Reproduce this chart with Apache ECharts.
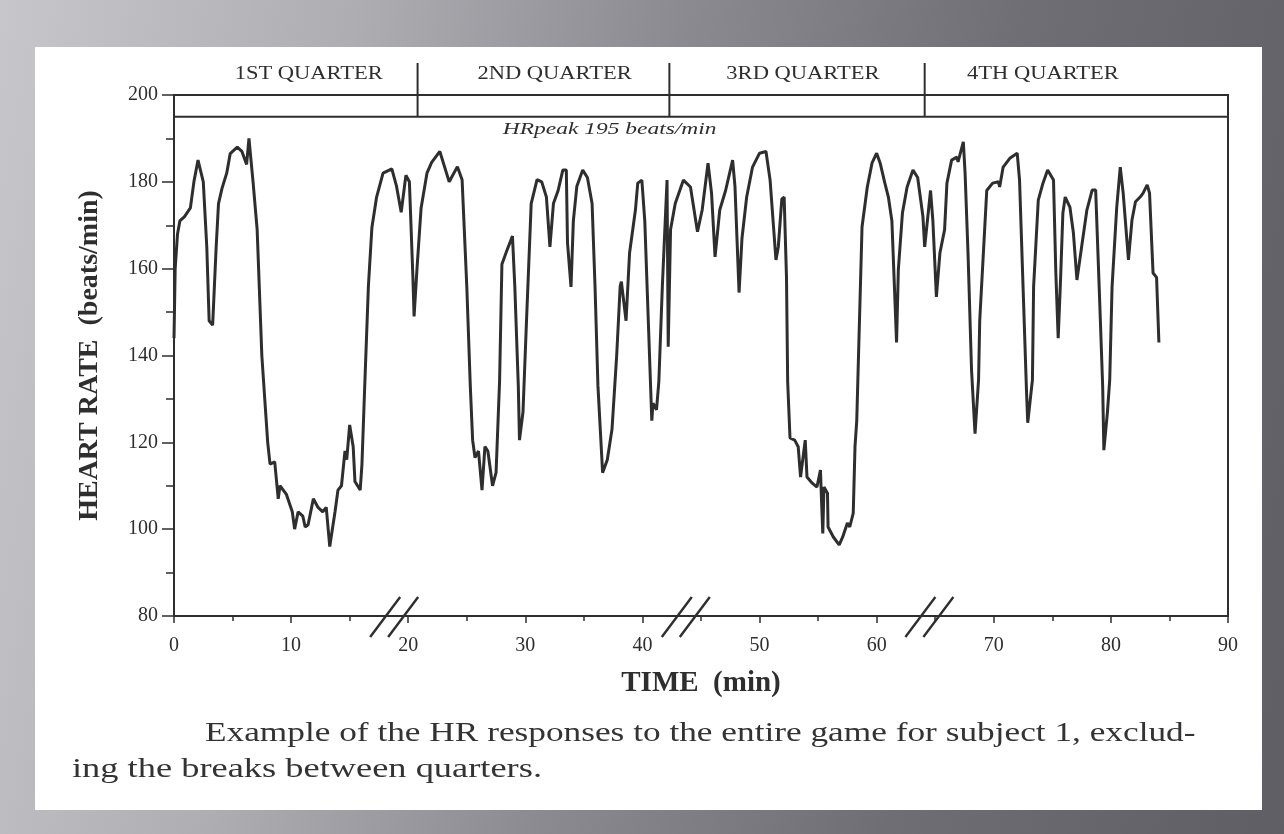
<!DOCTYPE html>
<html>
<head>
<meta charset="utf-8">
<title>HR responses, subject 1</title>
<script src="https://cdn.jsdelivr.net/npm/echarts@6/dist/echarts.min.js"></script>
<style>
    html, body { margin: 0; padding: 0; width: 1284px; height: 834px; overflow: hidden; }
    body {
        background: linear-gradient(100deg, #c6c6cb 0%, #adadb2 25%, #8b8a90 48%, #6f6e74 72%, #5f5e64 100%);
    }
    #paper { position: absolute; left: 35px; top: 47px; width: 1227px; height: 763px; background: #fff; }
    #chart { position: absolute; left: 0; top: 0; width: 1284px; height: 834px; }
</style>
</head>
<body>
<div id="paper"></div>
<div id="chart"></div>
<script>
    // minutes of play (breaks removed) and heart rate
    var minutes = [
        0.0, 0.1, 0.3, 0.5, 0.9, 1.4, 1.7, 2.05, 2.5, 2.8, 3.0, 3.3, 3.6, 3.8, 4.1, 4.5, 4.8, 5.4, 5.8, 6.2,
        6.4, 6.75, 7.1, 7.5, 7.8, 8.0, 8.2, 8.6, 8.9, 9.05, 9.6, 10.1, 10.3, 10.6, 11.0, 11.2, 11.45, 11.9, 12.3, 12.7,
        13.0, 13.3, 13.75, 14.0, 14.3, 14.6, 14.75, 15.0, 15.3, 15.45, 15.9, 16.05, 16.3, 16.6, 16.9, 17.3, 17.85, 18.6, 19.0, 19.4,
        19.8, 20.1, 20.4, 20.5, 20.75, 21.1, 21.6, 22.0, 22.7, 23.5, 24.2, 24.6, 25.0, 25.3, 25.5, 25.7, 26.0, 26.3, 26.55, 26.8,
        27.2, 27.5, 27.8, 28.0, 28.4, 28.9, 29.1, 29.4, 29.5, 29.8, 30.1, 30.5, 31.0, 31.4, 31.8, 32.1, 32.4, 32.8, 33.2, 33.5,
        33.6, 33.9, 34.1, 34.4, 34.9, 35.3, 35.7, 35.95, 36.2, 36.6, 37.0, 37.4, 37.8, 38.1, 38.2, 38.6, 38.9, 39.4, 39.6, 39.95,
        40.2, 40.5, 40.8, 40.9, 41.2, 41.4, 41.7, 42.1, 42.2, 42.4, 42.8, 43.5, 44.1, 44.7, 45.1, 45.6, 45.9, 46.2, 46.6, 47.1,
        47.7, 47.9, 48.25, 48.5, 48.9, 49.4, 50.0, 50.55, 50.9, 51.4, 51.6, 51.9, 52.1, 52.3, 52.4, 52.6, 53.0, 53.3, 53.5, 53.9,
        54.05, 54.5, 54.9, 55.2, 55.3, 55.4, 55.5, 55.8, 55.85, 56.3, 56.8, 57.1, 57.5, 57.7, 58.0, 58.15, 58.3, 58.45, 58.75, 59.2,
        59.6, 60.0, 60.3, 60.7, 61.0, 61.3, 61.7, 61.85, 62.2, 62.6, 63.1, 63.5, 63.95, 64.1, 64.6, 64.8, 65.1, 65.4, 65.8, 66.0,
        66.4, 66.85, 66.95, 67.4, 67.55, 67.8, 68.1, 68.4, 68.7, 68.8, 69.4, 69.9, 70.4, 70.5, 70.8, 71.4, 72.0, 72.2, 72.5, 72.8,
        72.9, 73.3, 73.4, 73.8, 74.2, 74.6, 75.1, 75.3, 75.5, 75.7, 75.9, 76.1, 76.5, 76.8, 77.1, 77.5, 77.95, 78.4, 78.7, 79.0,
        79.3, 79.4, 79.7, 79.9, 80.1, 80.5, 80.8, 81.05, 81.5, 81.8, 82.1, 82.5, 82.75, 83.1, 83.3, 83.6, 83.9, 84.1
    ];
    var heartRate = [
        144, 160, 168, 171, 172, 174, 180, 185, 180, 165, 148, 147, 165, 175, 178.5, 182, 186.5, 188, 187, 184,
        190, 180, 169, 140, 128, 120, 115, 115.5, 107, 110, 108, 104, 100, 104, 103, 100.5, 101, 107, 105, 104,
        105, 96, 104, 109, 110, 118, 116, 124, 119, 111, 109, 115, 134, 156, 169.5, 176.5, 182, 183, 179, 173,
        181.5, 180, 158, 149, 160, 174, 182, 184.5, 187, 180, 183.5, 180.5, 156, 133, 120.5, 116.5, 118, 109, 119, 118,
        110, 113, 134, 161, 164, 167.5, 156, 133, 120.5, 127, 148, 175, 180.5, 180, 176.5, 165, 175, 178, 182.7, 182.7,
        166, 155.8, 171, 179, 182.7, 181, 175, 156, 133, 113, 116, 123, 140, 156, 157, 148, 163.6, 173.5, 179.7, 180.4,
        171, 148, 125, 129, 127.5, 134, 156, 180.4, 142, 169, 175, 180.4, 178.8, 168.5, 173.5, 184.3, 177.4, 162.7, 173.5, 178,
        185, 179, 154.5, 167, 176.5, 183.4, 186.6, 187, 180.4, 162, 165, 176, 176.5, 158, 134, 121, 120.5, 119, 112, 120.5,
        112, 110.6, 109.7, 113.6, 106, 99, 109.7, 108.3, 100.5, 98.2, 96.4, 98.2, 101.4, 100.5, 103.7, 119, 125, 140, 169.6, 178.8,
        184.3, 186.6, 184.3, 179.7, 176.5, 171, 143, 159.7, 172.8, 178.8, 182.7, 181, 172, 165, 178, 171, 153.5, 163.6, 169, 179.7,
        185, 185.7, 184.6, 189.2, 182, 163.6, 136.7, 122, 134.4, 148, 178, 179.7, 180, 178.8, 183.4, 185.5, 186.6, 180.4, 155.8, 131.4,
        124.5, 134.4, 155.8, 175.8, 179.7, 182.7, 180.4, 159, 144, 157.4, 172.8, 176.5, 174.2, 168.2, 157.4, 165, 173.5, 178.1, 178.1, 155.8,
        132.8, 118.2, 126.8, 134.4, 155.8, 174.2, 183.4, 177.4, 162, 171.2, 175.4, 176.5, 177.4, 179.3, 177.4, 159, 158, 143
    ];

    var peakHR = 195;
    var quarterEnds = [20.8, 42.3, 64.1];
    var quarterNames = ['1ST QUARTER', '2ND QUARTER', '3RD QUARTER', '4TH QUARTER'];
    var quarterLabelAt = [11.5, 32.5, 53.7, 74.2];
    var breakMarks = [18.8, 43.7, 64.5];
    var peakLabelAt = 37.2;

    var serif = '"Liberation Serif", "DejaVu Serif", serif';
    var ink = '#2e2e2e';
    // the scanned page is stretched sideways a little
    var stretch = 1.25;

    var chart = echarts.init(document.getElementById('chart'));
    chart.setOption({
        animation: false,
        grid: {
            left: 174, right: 56, top: 95, bottom: 218,
            show: true, borderColor: ink, borderWidth: 2
        },
        xAxis: {
            type: 'value', min: 0, max: 90, interval: 10,
            name: 'TIME  (min)', nameLocation: 'middle', nameGap: 53,
            nameTextStyle: { fontFamily: serif, fontWeight: 'bold', fontSize: 29, color: ink },
            axisLine: { lineStyle: { color: ink, width: 2 } },
            axisTick: { length: 7, lineStyle: { color: ink, width: 1.5 } },
            minorTick: { show: true, splitNumber: 2, length: 5, lineStyle: { color: ink, width: 1.5 } },
            splitLine: { show: false },
            axisLabel: { fontFamily: serif, fontSize: 20, color: ink, margin: 20 }
        },
        yAxis: {
            type: 'value', min: 80, max: 200, interval: 20,
            name: 'HEART RATE  (beats/min)', nameLocation: 'middle', nameGap: 70,
            nameTextStyle: { fontFamily: serif, fontWeight: 'bold', fontSize: 28, color: ink },
            axisLine: { lineStyle: { color: ink, width: 2 } },
            axisTick: { length: 12, lineStyle: { color: ink, width: 1.5 } },
            minorTick: { show: true, splitNumber: 2, length: 8, lineStyle: { color: ink, width: 1.5 } },
            splitLine: { show: false },
            axisLabel: { fontFamily: serif, fontSize: 20, color: ink, margin: 16 }
        },
        graphic: [
            {
                type: 'text', x: 205, y: 720, scaleX: 1.26,
                style: {
                    text: 'Example of the HR responses to the entire game for subject 1, exclud-',
                    font: '28px ' + serif, fill: '#333', align: 'left', verticalAlign: 'top'
                }
            },
            {
                type: 'text', x: 72, y: 756, scaleX: 1.3,
                style: {
                    text: 'ing the breaks between quarters.',
                    font: '28px ' + serif, fill: '#333', align: 'left', verticalAlign: 'top'
                }
            }
        ],
        series: [
            {
                type: 'line',
                data: minutes.map(function (m, i) { return [m, heartRate[i]]; }),
                showSymbol: false,
                lineStyle: { color: ink, width: 3 },
                z: 3
            },
            {
                // HRpeak line and its note
                type: 'custom', silent: true,
                data: [[0, peakHR]],
                renderItem: function (params, api) {
                    var a = api.coord([0, peakHR]);
                    var b = api.coord([90, peakHR]);
                    var t = api.coord([peakLabelAt, peakHR]);
                    return {
                        type: 'group',
                        children: [
                            { type: 'line', shape: { x1: a[0], y1: a[1], x2: b[0], y2: b[1] }, style: { stroke: ink, lineWidth: 2 } },
                            {
                                type: 'text', x: t[0], y: t[1] + 13, scaleX: 1.38,
                                style: {
                                    text: 'HRpeak 195 beats/min', fill: ink, align: 'center', verticalAlign: 'middle',
                                    font: 'italic 17px ' + serif
                                }
                            }
                        ]
                    };
                }
            },
            {
                // quarter dividers above the plot
                type: 'custom', silent: true, clip: false,
                data: quarterEnds.map(function (q) { return [q, peakHR]; }),
                renderItem: function (params, api) {
                    var low = api.coord([api.value(0), api.value(1)]);
                    var top = api.coord([api.value(0), 200]);
                    return {
                        type: 'line',
                        shape: { x1: low[0], y1: low[1], x2: top[0], y2: top[1] - 32 },
                        style: { stroke: ink, lineWidth: 2 }
                    };
                }
            },
            {
                type: 'custom', silent: true, clip: false,
                data: quarterLabelAt.map(function (q) { return [q, 200]; }),
                renderItem: function (params, api) {
                    var p = api.coord([api.value(0), api.value(1)]);
                    return {
                        type: 'text', x: p[0], y: p[1] - 21, scaleX: stretch,
                        style: {
                            text: quarterNames[params.dataIndex], fill: ink, align: 'center', verticalAlign: 'middle',
                            font: '18px ' + serif
                        }
                    };
                }
            },
            {
                // axis break marks //
                type: 'custom', silent: true, clip: false,
                data: breakMarks.map(function (b) { return [b, 80]; }),
                renderItem: function (params, api) {
                    var p = api.coord([api.value(0), api.value(1)]);
                    var kids = [-9, 9].map(function (d) {
                        return {
                            type: 'line',
                            shape: { x1: p[0] + d - 15, y1: p[1] + 21, x2: p[0] + d + 15, y2: p[1] - 19 },
                            style: { stroke: ink, lineWidth: 2.4 }
                        };
                    });
                    return { type: 'group', children: kids };
                }
            }
        ]
    });
</script>
</body>
</html>
